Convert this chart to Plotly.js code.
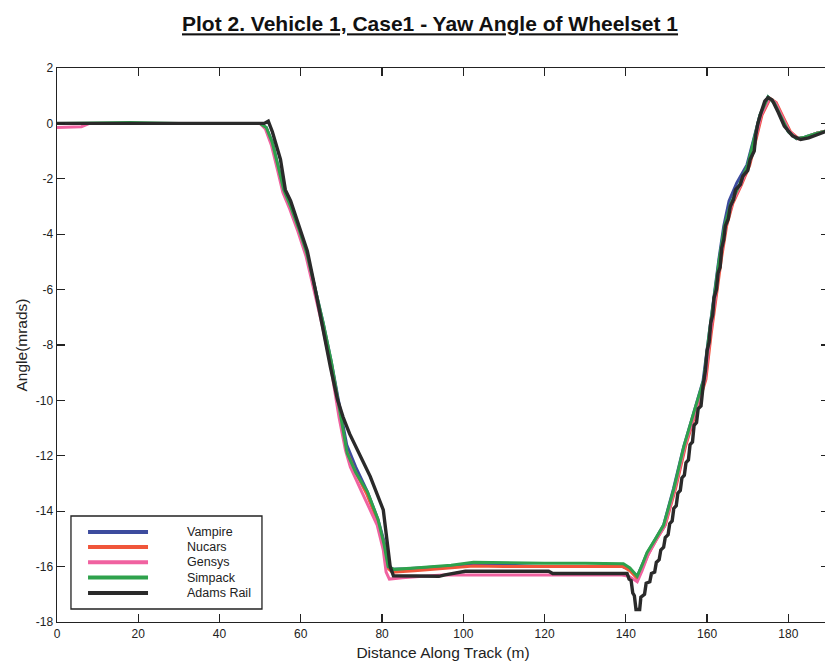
<!DOCTYPE html>
<html><head><meta charset="utf-8">
<script src="https://cdn.plot.ly/plotly-3.0.1.min.js"></script>
<style>html,body{margin:0;padding:0;overflow:hidden;background:#fff}#chart{width:835px;height:666px}</style>
</head><body><div id="chart"></div><script>
const seriesNames = ["Vampire", "Nucars", "Gensys", "Simpack", "Adams Rail"];
const seriesColors = ["#3d4c9e", "#f0553a", "#f062a0", "#2ea24c", "#2a2a2a"];

const xVampire = [0, 10, 20, 30, 40, 50, 51.5, 53, 54.5, 55.8, 57.5, 59.5, 61.5, 63.5, 65.5, 67.5, 69.6, 71.3, 73.5, 76.4, 79, 80.5, 81.5, 82.5, 86, 90, 95, 100, 104, 110, 120, 130, 139.2, 141, 142.8, 144, 145.3, 147.3, 149.3, 151.7, 154.2, 156.7, 159, 160.4, 161.7, 162.9, 164.1, 165.4, 167.3, 169.8, 171.4, 173, 175, 176.5, 178, 180, 182, 184, 187, 190];
const yVampire = [0, 0, 0, 0, 0, 0, -0.15, -0.7, -1.6, -2.4, -3.0, -3.8, -4.7, -5.9, -7.2, -8.6, -10.3, -11.6, -12.4, -13.3, -14.3, -15.1, -15.9, -16.1, -16.08, -16.05, -16.0, -15.95, -15.9, -15.95, -16.0, -16.0, -16.0, -16.1, -16.35, -15.95, -15.5, -15.0, -14.5, -13.2, -11.7, -10.45, -9.3, -7.7, -6.2, -4.9, -3.7, -2.8, -2.15, -1.5, -0.6, 0.3, 0.95, 0.75, 0.3, -0.3, -0.55, -0.5, -0.35, -0.25];

const xNucars = [0, 10, 20, 30, 40, 50, 51.5, 53, 54.5, 55.8, 57.5, 59.5, 61.5, 63.5, 65.5, 67.5, 69.6, 71.2, 73.5, 76.3, 79, 80.5, 81.4, 82.5, 88, 93, 97, 102.5, 110, 120, 130, 139.3, 141, 142.9, 144.2, 145.5, 147.6, 149.7, 152.2, 154.7, 157.2, 159.7, 161, 162.3, 163.5, 164.8, 166.3, 168.5, 170.5, 172, 173.5, 175.5, 177, 178.5, 180.5, 182.5, 184.5, 187, 190];
const yNucars = [0, 0, 0, 0, 0, 0, -0.2, -0.8, -1.7, -2.5, -3.1, -3.9, -4.8, -6.0, -7.3, -8.7, -10.4, -11.8, -12.6, -13.4, -14.4, -15.2, -16.05, -16.2, -16.15, -16.1, -16.05, -15.98, -16.0, -16.0, -16.0, -16.0, -16.15, -16.45, -16.0, -15.55, -15.0, -14.5, -13.2, -11.65, -10.45, -9.24, -7.6, -6.1, -4.9, -3.7, -2.9, -2.2, -1.5, -0.6, 0.3, 0.9, 0.75, 0.3, -0.3, -0.55, -0.5, -0.35, -0.25];

const xGensys = [0, 6, 8, 20, 30, 40, 50, 51.3, 52.8, 54.3, 55.6, 57.3, 59.3, 61.3, 63.3, 65.3, 67.3, 69.4, 71, 72.2, 75, 78.8, 80.3, 81, 81.8, 85, 90, 95, 100, 110, 120, 130, 139, 140.8, 142.8, 144, 145.4, 147.4, 149.5, 152, 154.5, 157, 159.5, 160.8, 162.1, 163.3, 164.6, 166.1, 168.3, 170.3, 171.8, 173.3, 175.3, 176.8, 178.3, 180.3, 182.3, 184.3, 187, 190];
const yGensys = [-0.15, -0.12, 0, 0, 0, 0, 0, -0.2, -0.8, -1.7, -2.5, -3.1, -3.9, -4.8, -6.0, -7.3, -8.7, -10.6, -11.8, -12.4, -13.3, -14.5, -15.4, -16.2, -16.45, -16.4, -16.35, -16.3, -16.3, -16.3, -16.3, -16.3, -16.3, -16.35, -16.55, -16.15, -15.6, -15.05, -14.55, -13.2, -11.65, -10.45, -9.24, -7.6, -6.1, -4.9, -3.7, -2.9, -2.2, -1.5, -0.6, 0.3, 0.9, 0.75, 0.3, -0.3, -0.55, -0.5, -0.35, -0.25];

const xSimpack = [0, 10, 18, 30, 40, 50, 51.5, 53, 54.5, 55.8, 57.5, 59.5, 61.5, 63.5, 65.5, 67.5, 69.7, 71.4, 73.5, 76.4, 79, 80.5, 81.5, 83, 88, 93, 97, 102.5, 110, 120, 130, 139.4, 141, 142.8, 144, 145.2, 147.3, 149.3, 151.8, 154.3, 156.7, 159.2, 160.5, 161.8, 163, 164.3, 165.8, 168, 170, 171.5, 173, 175, 176.5, 178, 180, 182, 184, 187, 190];
const ySimpack = [0, 0.03, 0.03, 0, 0, 0, -0.15, -0.7, -1.6, -2.4, -3.0, -3.8, -4.7, -5.9, -7.2, -8.6, -10.5, -11.9, -12.6, -13.3, -14.3, -15.2, -16.0, -16.1, -16.05, -16.0, -15.95, -15.84, -15.86, -15.88, -15.88, -15.9, -16.05, -16.35, -15.95, -15.5, -15.0, -14.5, -13.2, -11.65, -10.45, -9.24, -7.6, -6.1, -4.9, -3.7, -2.9, -2.2, -1.5, -0.6, 0.3, 0.95, 0.75, 0.3, -0.3, -0.55, -0.5, -0.35, -0.25];

const xAdams = [0, 10, 20, 30, 40, 50, 51, 52, 53, 55, 56.2, 57.5, 59.4, 61.6, 63.3, 65.5, 67.3, 69, 70.4, 72, 73.9, 77.1, 80.3, 81.2, 82, 82.8, 88, 94, 95.5, 100.5, 110, 121, 122, 130, 140.3, 140.8, 141.3, 141.7, 142.1, 142.5, 143.4, 143.7, 144.6, 145.0, 145.9, 146.3, 147.1, 147.5, 148.2, 148.6, 149.3, 149.7, 150.4, 150.8, 151.4, 151.8, 152.4, 152.8, 153.4, 153.8, 154.4, 154.8, 155.4, 155.8, 156.4, 156.8, 157.4, 157.8, 158.5, 159.0, 159.6, 160.0, 160.5, 160.9, 161.4, 161.7, 162.3, 162.7, 163.2, 163.6, 164.1, 164.5, 165.2, 165.7, 166.5, 167.0, 168.2, 168.8, 170.0, 170.6, 171.6, 172.0, 172.5, 173.3, 174.2, 175.0, 176, 177.5, 179, 181, 183, 185, 187, 190];
const yAdams = [0, 0, 0, 0, 0, 0, 0, 0.08, -0.3, -1.3, -2.4, -2.8, -3.6, -4.6, -5.8, -7.5, -8.8, -9.95, -10.6, -11.2, -11.8, -12.75, -13.95, -15.0, -16.0, -16.33, -16.33, -16.35, -16.3, -16.17, -16.17, -16.17, -16.25, -16.25, -16.25, -16.45, -16.5, -16.95, -17.05, -17.55, -17.55, -17.1, -17.0, -16.6, -16.55, -16.25, -16.2, -15.85, -15.75, -15.4, -15.3, -14.95, -14.85, -14.45, -14.35, -13.9, -13.8, -13.35, -13.25, -12.8, -12.7, -12.25, -12.15, -11.6, -11.5, -10.9, -10.8, -10.3, -10.2, -9.5, -8.9, -8.2, -7.9, -7.2, -6.9, -6.3, -6.0, -5.4, -5.2, -4.5, -4.2, -3.7, -3.45, -3.0, -2.75, -2.4, -2.2, -1.9, -1.7, -1.3, -1.0, -0.4, 0.0, 0.4, 0.8, 0.93, 0.85, 0.4, -0.1, -0.45, -0.58, -0.52, -0.4, -0.25];

const xTickVals = [0, 20, 40, 60, 80, 100, 120, 140, 160, 180];
const xTickText = ["0", "20", "40", "60", "80", "100", "120", "140", "160", "180"];
const yTickVals = [-18, -16, -14, -12, -10, -8, -6, -4, -2, 0, 2];
const yTickText = ["-18", "-16", "-14", "-12", "-10", "-8", "-6", "-4", "-2", "0", "2"];

const xs = [xVampire, xNucars, xGensys, xSimpack, xAdams];
const ys = [yVampire, yNucars, yGensys, ySimpack, yAdams];
const widths = [3, 3, 3, 3, 3.4];

const traces = seriesNames.map((n, i) => ({
  x: xs[i], y: ys[i], type: "scatter", mode: "lines", name: n,
  line: {color: seriesColors[i], width: widths[i]}, showlegend: false, hoverinfo: "skip"
}));

// hand-drawn legend box (paper coords)
const legX0 = 0.0181, legX1 = 0.2655, legY0 = 0.0235, legY1 = 0.1913;
const legRowY = [0.1625, 0.1354, 0.1079, 0.0801, 0.0523];
const shapes = [{type: "rect", xref: "paper", yref: "paper", x0: legX0, x1: legX1, y0: legY0, y1: legY1,
  line: {color: "#222", width: 1.3}, fillcolor: "rgba(255,255,255,0)"}];
const annotations = [];
seriesNames.forEach((n, i) => {
  shapes.push({type: "line", xref: "paper", yref: "paper", x0: 0.0402, x1: 0.1179, y0: legRowY[i], y1: legRowY[i],
    line: {color: seriesColors[i], width: 4}});
  annotations.push({xref: "paper", yref: "paper", x: 0.1665, y: legRowY[i], xanchor: "left", yanchor: "middle",
    text: n, showarrow: false, borderpad: 0,
    font: {family: "Liberation Sans, Arial, sans-serif", size: 12.5, color: "#222"}});
});

const axisCommon = {showline: true, linecolor: "#222", linewidth: 1.4, mirror: "ticks", ticks: "inside",
  ticklen: 8, tickwidth: 1.3, tickcolor: "#222", showgrid: false, zeroline: false, automargin: false,
  tickfont: {family: "Liberation Sans, Arial, sans-serif", size: 12, color: "#222"}};

const layout = {
  width: 835, height: 666,
  margin: {l: 57, r: 6, t: 68, b: 44},
  paper_bgcolor: "#fff", plot_bgcolor: "#fff",
  title: {text: "Plot 2. Vehicle 1, Case1 - Yaw Angle of Wheelset 1", xref: "container", x: 0.515, xanchor: "center",
    yref: "container", y: 0.964, yanchor: "middle",
    font: {family: "Liberation Sans Narrow, Liberation Sans, Arial, sans-serif", size: 21, weight: "bold", color: "#111", lineposition: "under"}},
  xaxis: Object.assign({}, axisCommon, {range: [0, 190], tickvals: xTickVals, ticktext: xTickText,
    title: {text: "Distance Along Track (m)", standoff: 7, font: {family: "Liberation Sans, Arial, sans-serif", size: 15.5, color: "#222"}}}),
  yaxis: Object.assign({}, axisCommon, {range: [-18, 2], tickvals: yTickVals, ticktext: yTickText,
    title: {text: "Angle(mrads)", standoff: 4, font: {family: "Liberation Sans, Arial, sans-serif", size: 15.5, color: "#222"}}}),
  shapes: shapes, annotations: annotations
};

Plotly.newPlot("chart", traces, layout, {displayModeBar: false, staticPlot: true});
</script></body></html>
